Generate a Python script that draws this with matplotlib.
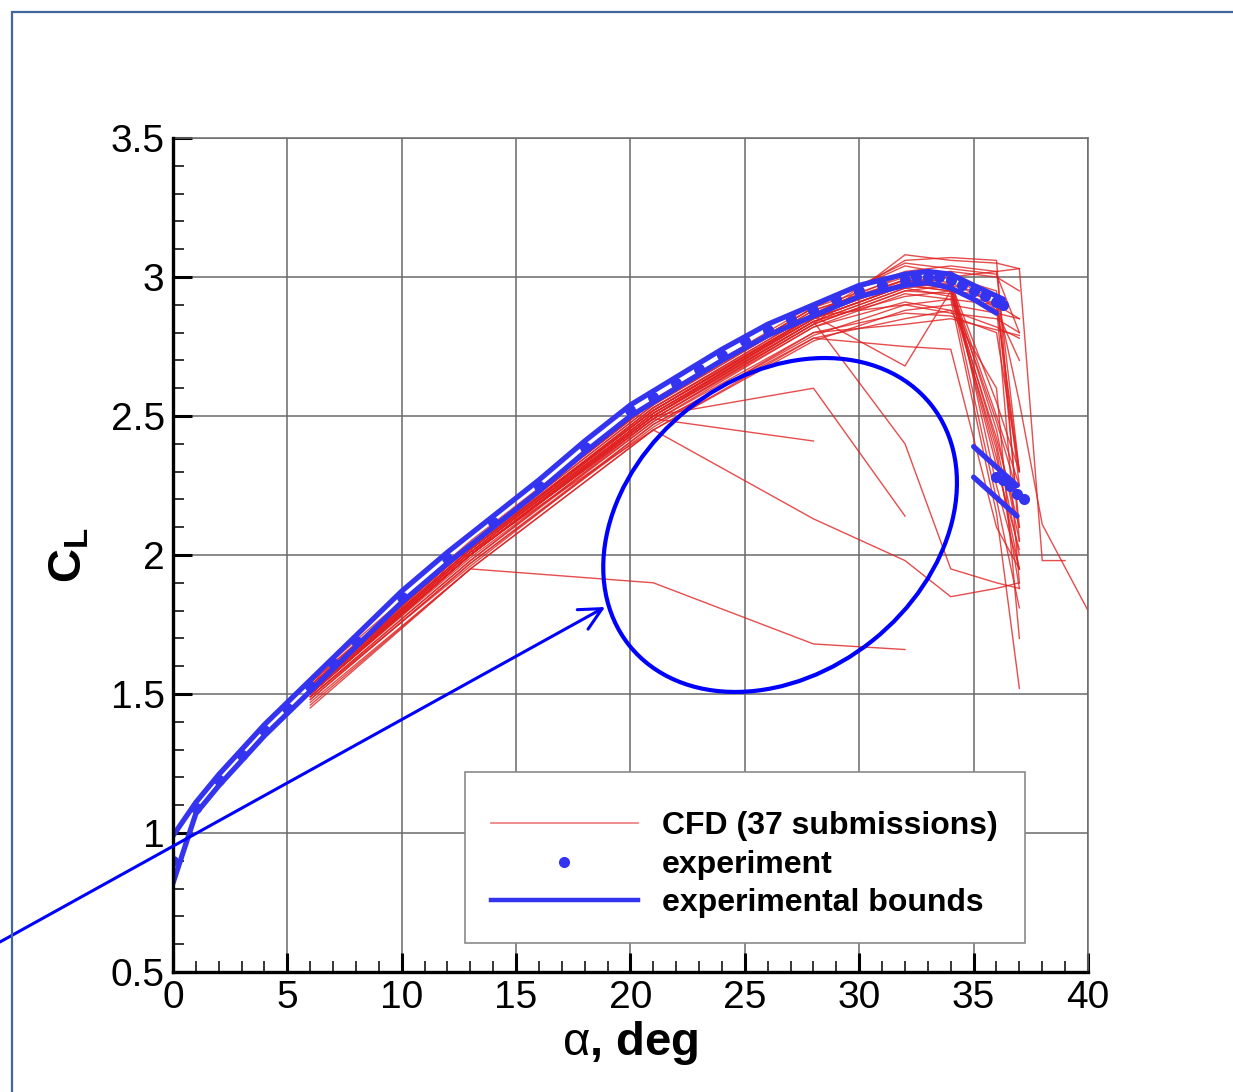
import matplotlib
matplotlib.use("Agg")
import matplotlib.pyplot as plt
from matplotlib.patches import Ellipse, Rectangle
from matplotlib.transforms import ScaledTranslation
from matplotlib.lines import Line2D
from matplotlib.ticker import MultipleLocator

plt.rcParams['font.family'] = ['Liberation Sans', 'DejaVu Sans']
plt.rcParams['mathtext.fontset'] = 'custom'
plt.rcParams['mathtext.rm'] = 'Liberation Sans'
plt.rcParams['mathtext.bf'] = 'Liberation Sans:bold'
plt.rcParams['mathtext.it'] = 'Liberation Sans:italic'

# experiment (attached branch)
exp_alpha = [0, 1, 2, 3, 4, 5, 6, 7, 8, 10, 12, 14, 16, 18, 20, 21, 22, 23, 24,
             25, 26, 27, 28, 29, 30, 31, 32, 32.5, 33, 33.5, 34, 34.5, 35,
             35.5, 36, 36.3]
exp_cl = [0.90, 1.09, 1.19, 1.28, 1.37, 1.45, 1.53, 1.61, 1.69, 1.85, 1.99,
          2.12, 2.25, 2.39, 2.52, 2.57, 2.62, 2.67, 2.72, 2.77, 2.81, 2.85,
          2.88, 2.92, 2.95, 2.97, 2.99, 3.00, 3.00, 3.00, 2.99, 2.97, 2.95,
          2.93, 2.91, 2.90]

# experimental bounds
upper_alpha = [0, 1, 2, 4, 6, 8, 10, 12, 14, 16, 18, 20, 22, 24, 26, 28, 30,
               32, 33, 34, 35, 36.3]
upper_cl = [0.99, 1.11, 1.21, 1.39, 1.55, 1.71, 1.87, 2.01, 2.14, 2.27, 2.41,
            2.54, 2.64, 2.74, 2.83, 2.90, 2.97, 3.01, 3.02, 3.01, 2.97, 2.92]
lower_alpha = [0, 1, 2, 4, 6, 8, 10, 12, 14, 16, 18, 20, 22, 24, 26, 28, 30,
               32, 33, 34, 35, 36]
lower_cl = [0.82, 1.07, 1.17, 1.35, 1.51, 1.67, 1.83, 1.97, 2.10, 2.23, 2.37,
            2.50, 2.60, 2.70, 2.79, 2.86, 2.93, 2.97, 2.98, 2.96, 2.92, 2.87]

# experiment (stalled branch)
stall_alpha = [36.0, 36.3, 36.6, 36.9, 37.2]
stall_cl = [2.28, 2.27, 2.25, 2.22, 2.20]
stall_upper_alpha = [35.0, 36.9]
stall_upper_cl = [2.39, 2.25]
stall_lower_alpha = [35.0, 36.9]
stall_lower_cl = [2.28, 2.14]

# CFD submissions, CL at the standard angles (shorter rows stop early)
cfd_alpha = [6, 13, 21, 28, 32, 34, 36, 37]
cfd_cl = [
    [1.55, 2.05, 2.56, 2.90, 3.02, 3.04, 3.02, 2.30],
    [1.52, 2.02, 2.53, 2.86, 2.98, 3.00, 2.95, 2.10],
    [1.50, 2.00, 2.50, 2.84, 2.96, 2.98, 2.90, 1.90],
    [1.53, 2.04, 2.55, 2.89, 3.05, 3.03, 3.01, 2.80],
    [1.54, 2.03, 2.52, 2.85, 2.97, 3.02, 3.00, 2.95],
    [1.53, 2.03, 2.54, 2.88, 2.99, 2.97, 2.45, 2.05],
    [1.52, 2.02, 2.52, 2.86, 2.98, 2.96, 2.40, 2.00],
    [1.51, 2.01, 2.51, 2.85, 2.97, 2.95, 2.48, 2.20],
    [1.54, 2.04, 2.55, 2.89, 3.00, 2.98, 2.55, 2.30],
    [1.50, 2.00, 2.49, 2.83, 2.95, 2.94, 2.42, 2.10],
    [1.52, 2.02, 2.53, 2.87, 2.98, 2.96, 2.35, 1.95],
    [1.53, 2.03, 2.54, 2.88, 2.99, 2.97, 2.50, 2.25],
    [1.51, 2.00, 2.50, 2.84, 2.96, 2.93, 2.38, 1.88],
    [1.49, 1.98, 2.48, 2.82, 2.94, 2.92, 2.15, 1.52],
    [1.52, 2.01, 2.51, 2.85, 2.97, 2.95, 2.20, 1.81],
    [1.47, 1.95, 2.45, 2.78, 2.85, 2.88, 2.82, 2.78],
    [1.48, 1.97, 2.46, 2.80, 2.87, 2.86, 2.80, 2.30],
    [1.50, 1.99, 2.48, 2.80, 2.83, 2.85, 2.81, 2.79],
    [1.49, 1.96, 2.47, 2.79, 2.90, 2.92, 2.90, 2.85],
    [1.51, 2.00, 2.50, 2.83, 3.08, 3.06, 3.05, 3.03],
    [1.52, 2.01, 2.52, 2.86, 3.06, 3.07, 3.06, 2.05],
    [1.53, 2.02, 2.53, 2.87, 3.01, 3.02, 2.88, 2.70],
    [1.50, 2.00, 2.51, 2.84, 2.93, 2.95, 2.93, 2.25],
    [1.49, 1.98, 2.49, 2.82, 2.91, 2.88, 2.60, 1.70],
    [1.46, 1.95, 2.45, 2.77, 2.88, 2.90, 2.87, 2.85],
    [1.45, 1.95, 1.90, 1.68, 1.66],
    [1.50, 2.00, 2.49, 2.41],
    [1.52, 2.02, 2.50, 2.60, 2.14],
    [1.51, 2.01, 2.45, 2.13, 1.98, 1.85, 1.88, 1.90],
    [1.50, 2.00, 2.50, 2.84, 2.40, 1.95, 1.90, 1.88],
    [1.52, 2.02, 2.52, 2.86, 2.68, 2.95, 2.90, 2.30],
    [1.48, 1.97, 2.47, 2.78, 2.75, 2.74, 2.10, 1.95],
    [1.53, 2.04, 2.55, 2.89, 3.04, 3.01, 2.25, 1.95],
    [1.52, 2.02, 2.52, 2.86, 2.99, 2.96, 2.32, 2.02],
    [1.50, 2.00, 2.50, 2.86, 2.90, 2.87, 2.85, 2.80],
]
# submissions that ran past 37 deg
cfd_long_alpha = [[6, 13, 21, 28, 32, 34, 36, 37, 38, 39],
                  [6, 13, 21, 28, 32, 34, 36, 37, 38, 40]]
cfd_long_cl = [[1.51, 2.01, 2.51, 2.85, 2.97, 3.00, 3.02, 3.03, 1.98, 1.98],
               [1.50, 2.00, 2.49, 2.83, 2.95, 2.97, 2.93, 2.55, 2.11, 1.80]]

RED = '#e02020'
EXP_BLUE = '#3434f0'

fig = plt.figure(figsize=(12.33, 10.92), dpi=100)
ax = fig.add_axes([0.1403, 0.1099, 0.7421, 0.7637])

for cl in cfd_cl:
    ax.plot(cfd_alpha[:len(cl)], cl, color=RED, lw=1.0, alpha=0.8, zorder=2)
for a, cl in zip(cfd_long_alpha, cfd_long_cl):
    ax.plot(a, cl, color=RED, lw=1.0, alpha=0.8, zorder=2)

for a, cl in [(upper_alpha, upper_cl), (lower_alpha, lower_cl),
              (stall_upper_alpha, stall_upper_cl),
              (stall_lower_alpha, stall_lower_cl)]:
    ax.plot(a, cl, color=EXP_BLUE, lw=3.8, solid_capstyle='round', zorder=3)
ax.plot(exp_alpha, exp_cl, 'o', color=EXP_BLUE, ms=8, mew=0, zorder=4)
ax.plot(stall_alpha, stall_cl, 'o', color=EXP_BLUE, ms=8, mew=0, zorder=4)

ax.set_xlim(0, 40)
ax.set_ylim(0.5, 3.5)
ax.xaxis.set_major_locator(MultipleLocator(5))
ax.xaxis.set_minor_locator(MultipleLocator(1))
ax.yaxis.set_major_locator(MultipleLocator(0.5))
ax.yaxis.set_minor_locator(MultipleLocator(0.1))
ax.set_xticks([0, 5, 10, 15, 20, 25, 30, 35, 40])
ax.set_xticklabels(['0', '5', '10', '15', '20', '25', '30', '35', '40'])
ax.set_yticks([0.5, 1, 1.5, 2, 2.5, 3, 3.5])
ax.set_yticklabels(['0.5', '1', '1.5', '2', '2.5', '3', '3.5'])
ax.grid(True, which='major', color='#6a6a6a', lw=1.1)
ax.set_axisbelow(True)
ax.tick_params(which='major', direction='in', length=14, width=2.2,
               labelsize=28, pad=6, top=False, right=False)
ax.tick_params(which='minor', direction='in', length=8, width=1.1,
               top=False, right=False)
for side in ('left', 'bottom'):
    ax.spines[side].set_linewidth(2.4)
    ax.spines[side].set_zorder(5)
for side in ('top', 'right'):
    ax.spines[side].set_color('#6a6a6a')
    ax.spines[side].set_linewidth(1.1)

ax.set_xlabel(r'$\mathrm{\alpha}\mathbf{,}$ $\mathbf{deg}$', fontsize=34,
              labelpad=2)
ax.set_ylabel(r'$\mathbf{C_L}$', fontsize=34, labelpad=14)

# legend inside a fixed grey box
ax.add_patch(Rectangle((0.319, 0.035), 0.612, 0.205, transform=ax.transAxes,
                       facecolor='white', edgecolor='#8a8a8a', lw=1.2,
                       zorder=6))
handles = [Line2D([], [], color=RED, lw=1.2, alpha=0.6),
           Line2D([], [], ls='none', marker='o', color=EXP_BLUE, ms=8, mew=0),
           Line2D([], [], color=EXP_BLUE, lw=3.2)]
labels = ['CFD (37 submissions)', 'experiment', 'experimental bounds']
leg = ax.legend(handles, labels, loc='upper left',
                bbox_to_anchor=(0.33, 0.212), frameon=False,
                prop={'size': 23, 'weight': 'bold'}, handlelength=4.6,
                handletextpad=0.75, labelspacing=0.27, borderpad=0.0)
leg.set_zorder(7)

# annotation: ellipse around the scattered submissions and a pointer
cx, cy = 26.54, 2.108
ell = Ellipse((0, 0), 3.86, 2.96, angle=38.6, fill=False, edgecolor='blue',
              lw=3.0, transform=fig.dpi_scale_trans +
              ScaledTranslation(cx, cy, ax.transData), zorder=8,
              clip_on=False)
ax.add_patch(ell)
ax.annotate('', xy=(18.89, 1.813), xycoords='data',
            xytext=(0.0, 0.1374), textcoords='figure fraction',
            arrowprops=dict(arrowstyle='->, head_length=0.8, head_width=0.4',
                            mutation_scale=20, color='blue', lw=2.2,
                            shrinkA=0, shrinkB=0),
            annotation_clip=False, zorder=8)

# slide frame
fig.patches.append(Rectangle((12 / 1233, -0.05), 1.1, 1.039,
                             transform=fig.transFigure, fill=False,
                             edgecolor='#41689c', lw=1.6))

fig.savefig('out.png', dpi=100)
